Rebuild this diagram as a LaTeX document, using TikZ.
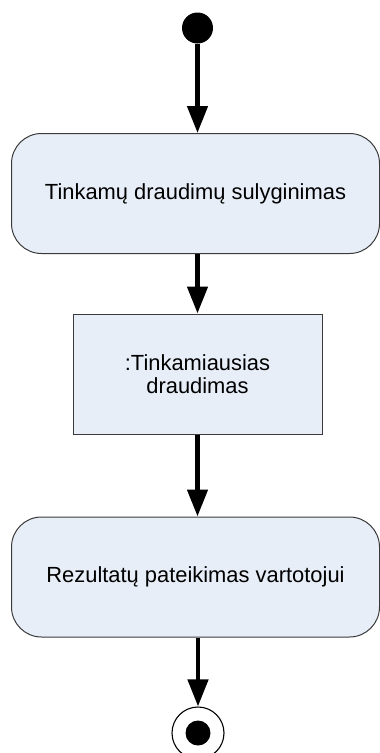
\documentclass[tikz,border=0pt]{standalone}
\usepackage{fontspec}
\setmainfont{Liberation Sans}
\usetikzlibrary{arrows.meta}
\definecolor{actfill}{HTML}{E8EEF8}
\definecolor{actline}{HTML}{3A3A3A}
\begin{document}
\begin{tikzpicture}[x=1pt,y=-1pt,
  every node/.style={font=\fontsize{21.9}{23}\selectfont},
  action/.style={draw=actline,line width=1pt,fill=actfill,rounded corners=30pt,
    minimum width=368pt,minimum height=120pt,inner sep=0pt},
  objbox/.style={draw=actline,line width=1pt,fill=actfill,
    minimum width=249pt,minimum height=120pt,inner sep=0pt,align=center},
  flow/.style={line width=4.5pt,-{Triangle[width=20pt,length=27pt]}}]
  \useasboundingbox (0,0) rectangle (380,753);
  % start node
  \node[circle,fill=black,minimum size=31pt,inner sep=0pt] (start) at (197.5,28) {};
  % activities and object
  \node[action] (act1) at (195.5,193.5) {Tinkamų draudimų sulyginimas};
  \node[objbox] (obj) at (197.5,374) {:Tinkamiausias\\draudimas};
  \node[action] (act2) at (195.5,577) {Rezultatų pateikimas vartotojui};
  % final node
  \node[circle,draw=black,line width=1.1pt,fill=white,minimum size=52pt,inner sep=0pt] (fin) at (198,733) {};
  \node[circle,fill=black,minimum size=25pt,inner sep=0pt] (finin) at (fin.center) {};
  % control flows
  \draw[flow] (start.south) -- (start.south |- act1.north);
  \draw[flow] (act1.south -| obj.north) -- (obj.north);
  \draw[flow] (obj.south) -- (obj.south |- act2.north);
  \draw[flow] (act2.south -| fin.north) -- (fin.north);
\end{tikzpicture}
\end{document}
